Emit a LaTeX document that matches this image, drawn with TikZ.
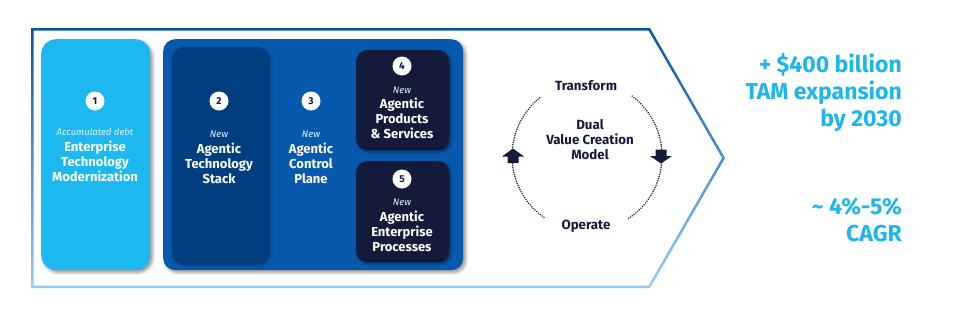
\documentclass[tikz,border=0pt]{standalone}
\usepackage{fontspec}
\setmainfont{Fira Sans}
\usetikzlibrary{shadows.blur}
\definecolor{lightblue}{HTML}{1EB8F0}
\definecolor{midblue}{HTML}{0759AE}
\definecolor{deepblue}{HTML}{003F7F}
\definecolor{navy}{HTML}{141A3A}
\definecolor{edgetop}{HTML}{0A52A3}
\definecolor{edgebot}{HTML}{93CCF8}
\definecolor{accent}{HTML}{1DB5EE}
\begin{document}
\begin{tikzpicture}[x=1pt,y=-1pt,
  panel/.style={rounded corners=12pt, anchor=north west, inner sep=0pt,
    blur shadow={shadow xshift=2.5pt, shadow yshift=-2.5pt, shadow blur radius=3pt, shadow opacity=40}},
  innerpanel/.style={rounded corners=11pt, anchor=north west, inner sep=0pt,
    blur shadow={shadow xshift=1.5pt, shadow yshift=-1.5pt, shadow blur radius=2.5pt, shadow opacity=45}},
  numdot/.style={circle, fill=white, minimum size=19pt, inner sep=0pt, text=navy,
    font=\fontsize{10}{10}\selectfont\bfseries},
  tagtext/.style={font=\fontsize{9.5}{10}\selectfont\itshape, text=white!85!lightblue, inner sep=0pt},
  titletext/.style={font=\fontsize{13}{15}\selectfont\bfseries, text=white, align=center, inner sep=0pt},
  cycletext/.style={font=\fontsize{13.3}{15}\selectfont\bfseries, text=navy, align=center, inner sep=0pt},
  bigtext/.style={font=\fontsize{23}{27}\selectfont\bfseries, text=accent, align=right, inner sep=0pt, anchor=east},
  dotline/.style={navy, line width=1.7pt, dash pattern=on 0.01pt off 2.3pt, line cap=round},
  blockarrow/.style={fill=navy}
]
\useasboundingbox (0,0) rectangle (960,311);

% chevron outline with vertical gradient
\shade[top color=edgetop, bottom color=edgebot, even odd rule]
  (31,28) -- (650,28) -- (725,158) -- (650,288) -- (31,288) -- cycle
  (33.5,30.5) -- (648.6,30.5) -- (722.1,158) -- (648.6,285.5) -- (33.5,285.5) -- cycle;

% panels
\node[panel, fill=lightblue, minimum width=109pt, minimum height=231pt, rounded corners=15pt] (b1) at (41,39) {};
\node[panel, fill=midblue, minimum width=300pt, minimum height=231pt] (big) at (163,39) {};
\node[innerpanel, fill=deepblue, minimum width=96pt, minimum height=216pt] (b2) at (172,47) {};
\node[innerpanel, fill=navy, minimum width=93pt, minimum height=100pt] (b4) at (356,50) {};
\node[innerpanel, fill=navy, minimum width=93pt, minimum height=101pt] (b5) at (356,161) {};

% box 1
\node[numdot] (n1) at (95,101) {1};
\node[tagtext] (t1) at (95,132) {Accumulated debt};
\node[titletext] (h1) at (95,161.5) {Enterprise\\Technology\\Modernization};

% box 2
\node[numdot] (n2) at (219,101) {2};
\node[tagtext] (t2) at (219,134) {New};
\node[titletext] (h2) at (219,163.5) {Agentic\\Technology\\Stack};

% box 3
\node[numdot] (n3) at (311,101) {3};
\node[tagtext] (t3) at (311,134) {New};
\node[titletext] (h3) at (311,163.5) {Agentic\\Control\\Plane};

% box 4
\node[numdot] (n4) at (402,66) {4};
\node[tagtext] (t4) at (402,90) {New};
\node[titletext] (h4) at (402,118.5) {Agentic\\Products\\\&~Services};

% box 5
\node[numdot] (n5) at (402,179) {5};
\node[tagtext] (t5) at (402,202) {New};
\node[titletext] (h5) at (402,231.5) {Agentic\\Enterprise\\Processes};

% cycle
\coordinate (cc) at (587,156);
\draw[dotline] (cc) ++(231:75) arc[start angle=231, end angle=124, radius=75];
\draw[dotline] (cc) ++(307:75) arc[start angle=307, end angle=417, radius=75];
\fill[blockarrow] (513,148.5) -- (524,156.5) -- (518.5,156.5) -- (518.5,163) -- (507.5,163) -- (507.5,156.5) -- (502,156.5) -- cycle;
\fill[blockarrow] (661,163.5) -- (672,156) -- (666.5,156) -- (666.5,149.5) -- (655.5,149.5) -- (655.5,156) -- (650,156) -- cycle;
\node[cycletext] (tr) at (586,86) {Transform};
\node[cycletext] (dv) at (590,139.5) {Dual\\Value Creation\\Model};
\node[cycletext] (op) at (586,226) {Operate};

% right figures
\node[bigtext] (tam) at (902,93) {+ \$400 billion\\TAM expansion\\by 2030};
\node[bigtext] (cagr) at (902,220) {\textasciitilde{} 4\%-5\%\\CAGR};
\end{tikzpicture}
\end{document}
